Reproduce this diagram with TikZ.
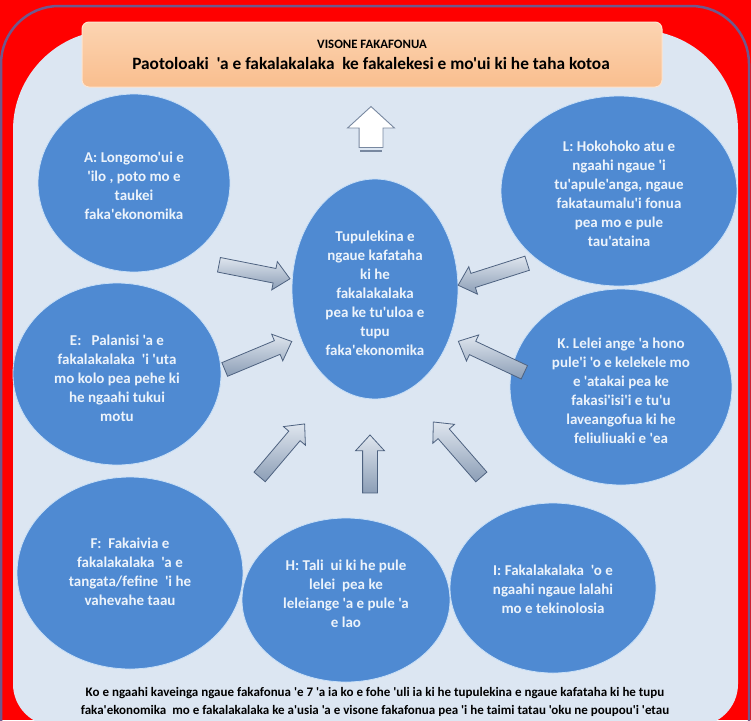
\documentclass[tikz,border=0pt]{standalone}
\usepackage{fontspec}
\setmainfont{Carlito}[Ligatures=TeXOff]
\usetikzlibrary{shapes.geometric,shapes.arrows,calc,shadings}
\definecolor{bgred}{RGB}{255,0,0}
\definecolor{panel}{RGB}{220,230,242}
\definecolor{rimc}{RGB}{112,88,140}
\definecolor{bubin}{RGB}{79,138,210}
\definecolor{bubmid}{RGB}{100,164,230}
\definecolor{bubout}{RGB}{165,204,242}
\definecolor{bubtext}{RGB}{236,243,251}
\definecolor{peachtop}{RGB}{252,212,178}
\definecolor{peachbot}{RGB}{249,190,142}
\definecolor{arrowlight}{RGB}{222,229,238}
\definecolor{arrowmid}{RGB}{140,158,182}
\definecolor{arrowdark}{RGB}{78,98,128}
\definecolor{upgray}{RGB}{120,136,160}
\pgfdeclareradialshading{bubble}{\pgfpoint{0bp}{0bp}}{color(0bp)=(bubin); color(42bp)=(bubin); color(47bp)=(bubmid); color(50bp)=(bubout)}
\newcommand\blockarr[4][]{\path let \p1=($(#4)-(#3)$) in node[barrow,#1,rotate={atan2(\y1,\x1)},minimum height={veclen(\x1,\y1)}] (#2) at ($(#3)!0.5!(#4)$) {};}
\begin{document}
\begin{tikzpicture}[x=1pt,y=-1pt,
  bub/.style={ellipse, shade, shading=bubble, draw=bubout!60!white, line width=0.8pt, inner sep=0pt},
  bubtxt/.style={text=bubtext, font=\bfseries\fontsize{15}{19}\selectfont, align=center, inner sep=0pt},
  barrow/.style={single arrow, draw=arrowdark, line width=0.8pt, top color=arrowlight, bottom color=arrowmid,
    inner xsep=0pt, inner ysep=7pt, single arrow head extend=7pt, single arrow tip angle=85, anchor=center},
  uparrow/.style={single arrow, draw=upgray, line width=0.9pt, fill=white,
    inner xsep=0pt, inner ysep=11.5pt, single arrow head extend=11.5pt, single arrow tip angle=95, anchor=center},
  hdrbox/.style={rectangle, rounded corners=7pt, top color=peachtop, bottom color=peachbot, draw=peachtop!60!white, line width=1pt},
  txt/.style={text=black, font=\bfseries, align=center, inner sep=0pt}]
\useasboundingbox (0,0) rectangle (751,720);
\fill[bgred] (0,0) rectangle (751,720);
\draw[rimc, line width=2.5pt, rounded corners=58pt] (1,6) rectangle (749,790);
\fill[panel] (13,500) [rounded corners=100pt] -- (13,30) -- (738,30) -- (738,500) [rounded corners=42pt] -- (738,726) -- (13,726) -- cycle;
% header
\node[hdrbox, minimum width=580pt, minimum height=65pt] (hdr) at (372,54.5) {};
\node[txt, font=\bfseries\fontsize{12.8}{14}\selectfont] (title) at (372,44) {VISONE FAKAFONUA};
\node[txt, font=\bfseries\fontsize{17.3}{19}\selectfont] (sub) at (371,63) {Paotoloaki\ \ 'a e fakalakalaka\ \ ke fakalekesi e mo'ui ki he taha kotoa};
% up arrow
\coordinate (upT) at (371,153);
\coordinate (upH) at (371,112);
\path let \p1=($(upH)-(upT)$) in node[uparrow, rotate={atan2(\y1,\x1)}, minimum height={veclen(\x1,\y1)}] (up) at ($(upT)!0.5!(upH)$) {};
\draw[upgray, line width=1.2pt] ($(upT)+(-11,-2)$) -- ($(upT)+(11,-2)$);
\draw[upgray, line width=1.2pt] ($(upT)+(-11,-5.5)$) -- ($(upT)+(11,-5.5)$);
% ellipses
\node[bub, minimum width=192pt, minimum height=178pt] (A) at (134,183) {};
\node[bub, minimum width=236pt, minimum height=190pt] (L) at (619,191) {};
\node[bub, minimum width=166pt, minimum height=220pt] (C) at (375,289) {};
\node[bub, minimum width=208pt, minimum height=182pt] (E) at (117,374) {};
\node[bub, minimum width=222pt, minimum height=196pt] (K) at (621,387) {};
\node[bub, minimum width=226pt, minimum height=192pt] (F) at (130,573) {};
\node[bub, minimum width=208pt, minimum height=164pt] (H) at (346,600) {};
\node[bub, minimum width=206pt, minimum height=170pt] (I) at (553,588) {};
\node[bubtxt] (At) at ($(A)+(0,3)$) {A: Longomo'ui e\\'ilo , poto mo e\\taukei\\faka'ekonomika};
\node[bubtxt] (Lt) at ($(L)+(0,3)$) {L: Hokohoko atu e\\ngaahi ngaue 'i\\tu'apule'anga, ngaue\\fakataumalu'i fonua\\pea mo e pule\\tau'ataina};
\node[bubtxt] (Ct) at ($(C)+(0,4)$) {Tupulekina e\\ngaue kafataha\\ki he\\fakalakalaka\\pea ke tu'uloa e\\tupu\\faka'ekonomika};
\node[bubtxt] (Et) at ($(E)+(0,4)$) {E:\ \ \ Palanisi 'a e\\fakalakalaka\ \ 'i 'uta\\mo kolo pea pehe ki\\he ngaahi tukui\\motu};
\node[bubtxt] (Kt) at ($(K)+(0,4)$) {K. Lelei ange 'a hono\\pule'i 'o e kelekele mo\\e 'atakai pea ke\\fakasi'isi'i e tu'u\\laveangofua ki he\\feliuliuaki e 'ea};
\node[bubtxt] (Ft) at ($(F)+(0,-1)$) {F:\ \ Fakaivia e\\fakalakalaka\ \ 'a e\\tangata/fefine\ \ 'i he\\vahevahe taau};
\node[bubtxt] (Ht) at ($(H)+(0,-6)$) {H: Tali\ \ ui ki he pule\\lelei\ \ pea ke\\leleiange 'a e pule 'a\\e lao};
\node[bubtxt] (It) at ($(I)+(0,1)$) {I: Fakalakalaka\ \ 'o e\\ngaahi ngaue lalahi\\mo e tekinolosia};
% block arrows toward centre
\coordinate (t1) at (215,264); \coordinate (h1) at (286,278);
\coordinate (t2) at (221,371); \coordinate (h2) at (288,343);
\coordinate (t3) at (531,262); \coordinate (h3) at (462,284);
\coordinate (t4) at (528,374); \coordinate (h4) at (462,343);
\coordinate (t5) at (257,480); \coordinate (h5) at (302,427);
\coordinate (t6) at (370,497); \coordinate (h6) at (370,439);
\coordinate (t7) at (484,480); \coordinate (h7) at (436,425);
\blockarr{ar1}{t1}{h1}
\blockarr{ar2}{t2}{h2}
\blockarr{ar3}{t3}{h3}
\blockarr{ar4}{t4}{h4}
\blockarr{ar5}{t5}{h5}
\blockarr{ar6}{t6}{h6}
\blockarr{ar7}{t7}{h7}
% bottom text
\node[txt, font=\bfseries\fontsize{13}{18}\selectfont] (foot) at (375,702) {Ko e ngaahi kaveinga ngaue fakafonua 'e 7 'a ia ko e fohe 'uli ia ki he tupulekina e ngaue kafataha ki he tupu\\faka'ekonomika\ \ mo e fakalakalaka ke a'usia 'a e visone fakafonua pea 'i he taimi tatau 'oku ne poupou'i 'etau};
\end{tikzpicture}
\end{document}
